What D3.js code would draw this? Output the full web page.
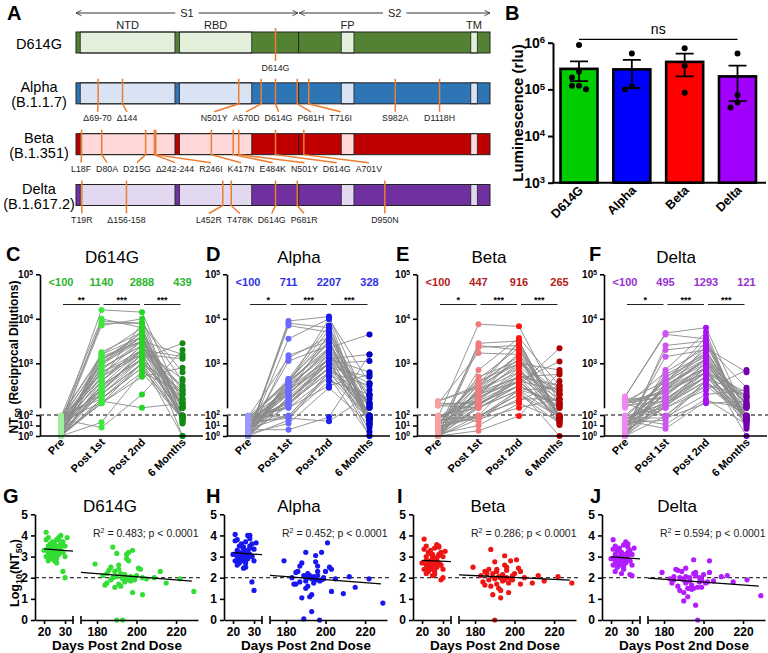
<!DOCTYPE html>
<html>
<head>
<meta charset="utf-8">
<script src="https://cdn.jsdelivr.net/npm/d3@7"></script>
<style>
  body { margin: 0; background: #fff; }
  svg { font-family: "Liberation Sans", Arial, sans-serif; }
</style>
</head>
<body>
<svg id="fig" width="768" height="653"></svg>
<script>
// ---------- data ----------
var variants = ["D614G", "Alpha", "Beta", "Delta"];
var lineages = ["", "(B.1.1.7)", "(B.1.351)", "(B.1.617.2)"];
var timepoints = ["Pre", "Post 1st", "Post 2nd", "6 Months"];

// A: spike map, residue numbers
var spikeLength = 1273;
var spikeDomains = [["NTD", 14, 305], ["RBD", 319, 541], ["FP", 816, 855], ["TM", 1214, 1234]];
var s1s2Site = 685;
var d614gMutations = [["D614G", 614]];
var alphaMutations = [["Δ69-70", 69], ["Δ144", 144], ["N501Y", 501], ["A570D", 570], ["D614G", 614],
  ["P681H", 681], ["T716I", 716], ["S982A", 982], ["D1118H", 1118]];
var betaMutations = [["L18F", 18], ["D80A", 80], ["D215G", 215], ["Δ242-244", 242], ["R246I", 246],
  ["K417N", 417], ["E484K", 484], ["N501Y", 501], ["D614G", 614], ["A701V", 701]];
var deltaMutations = [["T19R", 19], ["Δ156-158", 156], ["L452R", 452], ["T478K", 478], ["D614G", 614],
  ["P681R", 681], ["D950N", 950]];

// B: pseudovirus luminescence (rlu)
var lumD614G = [8.9e5, 2.4e5, 1.8e5, 1.2e5, 1.0e5, 1.2e5];
var lumAlpha = [5.9e5, 1.0e5, 1.14e5];
var lumBeta = [7.6e5, 3.2e5, 8.5e4];
var lumDelta = [5.9e5, 7.6e4, 5.2e4, 4.1e4];

// C-F: numbers above columns and significance
var topD614G = ["<100", "1140", "2888", "439"];
var topAlpha = ["<100", "711", "2207", "328"];
var topBeta = ["<100", "447", "916", "265"];
var topDelta = ["<100", "495", "1293", "121"];
var starsD614G = ["**", "***", "***"];
var starsAlpha = ["*", "***", "***"];
var starsBeta = ["*", "***", "***"];
var starsDelta = ["*", "***", "***"];

// days after 2nd dose for each subject
var daysPost2nd = [20,21,21,22,22,22,22,23,23,23,23,24,24,24,24,25,25,25,25,25,26,26,26,26,27,27,27,27,28,28,
  28,28,29,29,29,30,30,30,21,22,23,24,25,26,27,28,29,31];
var days6Months = [179,183,184,185,186,187,187,188,188,189,189,190,190,190,191,191,192,192,193,193,
  193,194,194,195,195,195,196,196,196,197,197,198,198,199,199,200,201,202,203,203,205,209,212,215,222,229,185,191];

// log10 NT50 per subject
var d614gPre = [0,1.2,0.5,1.8,0,0.9,1.5,0.3,1.9,0,1.1,0.7,1.6,0,1.3,0.4,1.7,0,1.0,0.6,1.4,0,1.85,0.2,1.2,0.8,1.5,0,1.9,0.5,
  1.0,0,1.6,0.3,1.3,0,1.75,0.9,0,1.1,0.6,1.45,0,1.95,0.4,1.2,0,1.65];
var d614gPost1 = [2.6,4.2,2.3,3.0,2.1,3.95,2.8,2.4,3.2,2.2,2.9,2.5,2.1,3.25,2.7,3.1,2.3,1.3,2.6,3.0,2.8,2.2,4.0,2.1,2.4,2.9,3.9,2.5,3.15,2.7,
  3.85,2.95,0.8,3.05,2.4,2.15,2.75,2.3,3.2,2.6,2.5,3.1,2.35,2.2,2.85,3.0,2.45,2.65];
var d614gPost2 = [3.3,4.15,3.0,3.5,2.8,3.9,3.2,3.1,3.6,2.9,3.4,3.3,3.0,3.7,3.2,3.5,3.1,2.8,3.4,3.6,3.3,3.0,3.8,2.7,3.2,3.4,3.9,3.1,3.5,3.3,
  4.0,3.6,2.3,3.7,3.2,2.0,3.5,3.0,3.8,3.4,3.1,3.6,3.3,2.9,3.5,3.7,3.2,3.9];
var d614g6mo = [2.65,2.1,1.65,2.2,2.35,1.9,2.5,3.45,2.0,1.55,2.3,3.15,0,2.05,1.7,2.4,2.2,1.6,2.1,0,1.95,2.15,1.8,2.9,3.1,2.0,2.8,1.9,3.2,2.05,
  1.85,1.3,3.3,2.0,1.9,2.1,2.45,2.4,1.2,2.0,1.95,2.0,2.3,1.75,1.95,1.35,1.75,2.6];

var alphaPre = [0.8,0,1.5,0.3,1.9,0,1.2,0.6,0,1.7,0.4,1.3,0,1.8,0.9,0,1.4,0.2,1.6,0,1.1,0.7,0,1.95,0.5,1.2,0,1.5,0.3,1.75,
  0,1.0,0.6,1.85,0,1.3,0.4,0,1.6,0.9,0,1.45,0.2,1.1,0,1.7,0.5,1.25];
var alphaPost1 = [2.3,3.95,2.1,2.6,1.8,3.9,2.4,2.2,3.18,2.0,2.5,2.15,1.5,3.12,2.35,2.6,2.05,1.2,2.3,2.55,2.45,1.9,3.85,2.0,2.2,2.5,3.55,2.1,3.05,2.4,
  2.65,2.5,0.6,2.6,2.25,1.7,2.4,2.1,2.6,2.3,2.2,2.65,2.05,1.95,2.45,2.55,2.15,2.35];
var alphaPost2 = [3.1,4.05,2.8,3.3,2.6,3.8,3.0,2.9,3.5,2.7,3.2,3.1,2.8,3.6,3.0,3.35,2.9,2.45,3.2,3.45,3.1,2.8,3.7,2.5,3.0,3.25,4.0,2.9,3.4,3.1,
  3.85,3.5,1.8,3.6,3.0,1.4,3.35,2.8,3.75,3.2,2.9,3.5,3.15,2.7,3.3,4.0,3.0,3.65];
var alpha6mo = [2.8,2.0,1.7,2.25,2.3,1.8,2.55,2.7,1.05,0.05,2.1,3.2,1.5,1.85,1.6,2.0,2.1,1.1,0.4,1.2,1.95,2.05,1.75,2.75,3.05,1.9,2.55,2.1,2.3,0,
  1.85,1.9,3.2,2.0,1.95,2.3,3.65,2.5,1.35,2.4,1.95,1.25,2.05,1.55,1.95,0.8,1.7,2.2];

var betaPre = [0.5,1.8,0,2.15,1.2,0,1.6,0.3,2.1,0.9,0,1.4,1.95,0.6,0,1.1,2.05,0.2,1.7,0,1.3,0.8,0,1.5,2.1,0.4,0,1.9,1.0,0,
  1.6,0.7,0,1.25,2.05,0,1.75,0.5,1.1,0,1.85,0.3,0,1.45,0.9,2.15,0,1.6];
var betaPost1 = [2.2,3.88,2.0,2.5,1.7,3.45,2.3,2.1,3.23,1.9,2.4,2.05,1.4,3.4,2.25,2.6,2.0,1.0,2.15,2.45,2.35,1.8,3.36,1.95,2.1,2.4,2.85,2.0,2.7,2.3,
  2.55,2.4,0.5,2.5,2.15,1.6,2.3,2.0,2.65,2.2,2.1,2.55,1.95,1.85,2.35,2.45,2.05,2.25];
var betaPost2 = [2.7,3.83,2.4,3.0,2.2,3.5,2.6,2.5,3.2,2.3,2.8,2.7,2.4,3.3,2.6,3.0,2.5,2.1,2.9,3.1,2.7,2.4,3.4,2.15,2.6,2.9,3.57,2.5,3.05,2.7,
  3.45,3.1,1.9,3.2,2.6,2.0,3.0,2.4,3.35,2.8,2.5,3.15,2.75,2.3,2.95,3.5,2.6,3.25];
var beta6mo = [2.5,2.1,1.8,2.3,2.2,1.9,2.4,3.34,1.6,1.2,2.2,2.75,0,1.95,1.7,2.3,2.05,1.5,1.05,1.4,2.0,2.15,1.85,2.6,3.04,1.9,2.5,2.0,2.35,1.3,
  1.75,1.95,2.8,2.1,1.9,2.2,2.85,2.45,1.7,2.3,2.0,1.75,2.1,1.85,2.05,1.75,1.65,2.4];

var deltaPre = [1.2,2.25,0.4,1.8,2.1,0,1.5,2.2,0.7,1.9,0,2.05,1.3,0.5,2.15,1.0,0,1.7,2.1,0.3,1.4,0,2.25,0.9,1.6,2.0,0,1.85,0.6,2.1,
  1.1,0,1.5,2.15,0.2,1.75,0,1.3,2.05,0.8,0,1.95,0.5,2.2,1.2,0,1.65,2.1];
var deltaPost1 = [2.3,3.68,2.1,2.6,1.8,3.4,2.4,2.2,3.15,2.0,2.5,2.15,1.5,3.3,2.35,2.7,2.05,1.1,2.25,2.55,2.45,1.9,3.65,2.0,2.2,2.5,2.85,2.1,2.75,2.4,
  2.65,2.5,0.7,2.6,2.2,1.7,2.4,2.05,2.8,2.3,2.15,2.6,2.0,1.95,2.45,2.55,2.1,2.35];
var deltaPost2 = [2.9,3.8,2.6,3.1,2.3,3.5,2.8,2.7,3.3,2.5,3.0,2.9,2.6,3.4,2.8,3.15,2.7,2.2,3.0,3.2,2.9,2.6,3.55,2.4,2.8,3.05,3.7,2.7,3.2,2.9,
  3.45,3.1,2.15,3.3,2.8,2.1,3.1,2.6,3.35,3.0,2.7,3.25,2.95,2.5,3.1,3.6,2.8,3.4];
var delta6mo = [2.25,1.95,1.75,2.05,2.4,1.6,2.35,2.0,1.4,2.3,1.95,0.9,1.3,1.9,1.75,2.05,1.5,1.1,1.85,1.5,2.0,1.65,1.45,2.85,2.2,1.5,0.7,2.25,2.1,0,
  1.55,1.8,2.0,1.9,1.55,2.15,1.75,1.8,2.8,2.25,1.85,2.05,2.1,1.8,1.9,1.15,1.9,2.45];

var r2Values = ["0.483", "0.452", "0.286", "0.594"];

// ---------- styling ----------
var spikeColors = [["#548235", "#e2efda"], ["#2e75b6", "#dae3f3"], ["#c00000", "#ffd9d9"], ["#7030a0", "#e2d9f0"]];
var orange = "#ed7d31";
var barFill = ["#00cc00", "#0000ff", "#ff0000", "#a100ff"];
var dotFill = [
  ["#9ef09e", "#3de83d", "#22d622", "#138a13"],
  ["#9a9aff", "#6a6aff", "#1c1cf0", "#0000c8"],
  ["#f6a0a0", "#f27b7b", "#ff1414", "#b00000"],
  ["#ee88f0", "#cc55f0", "#aa10f5", "#7400ae"]
];
var numFill = ["#2db52d", "#3030e6", "#b52020", "#9a2fd0"];
var scatterFill = ["#33dd33", "#1818ee", "#ee1515", "#b21cff"];

var svg = d3.select("#fig");
var mutationSets = [d614gMutations, alphaMutations, betaMutations, deltaMutations];
var lumSets = [lumD614G, lumAlpha, lumBeta, lumDelta];
var topSets = [topD614G, topAlpha, topBeta, topDelta];
var starSets = [starsD614G, starsAlpha, starsBeta, starsDelta];
var ntSets = [
  [d614gPre, d614gPost1, d614gPost2, d614g6mo],
  [alphaPre, alphaPost1, alphaPost2, alpha6mo],
  [betaPre, betaPost1, betaPost2, beta6mo],
  [deltaPre, deltaPost1, deltaPost2, delta6mo]
];

function panelLetter(x, y, t) {
  svg.append("text").attr("x", x).attr("y", y).attr("font-size", 20).attr("font-weight", "bold").text(t);
}

function powerLabels(axisG, expOf) {
  axisG.selectAll(".tick text").each(function(d) {
    var t = d3.select(this).text(null);
    t.append("tspan").text("10");
    t.append("tspan").attr("dy", "-0.5em").attr("font-size", "0.68em").text(expOf(d));
  });
}

function styleAxis(axisG, size, width) {
  axisG.attr("font-family", null).attr("font-size", size).attr("font-weight", "bold");
  axisG.select(".domain").attr("stroke-width", width);
  axisG.selectAll(".tick line").attr("stroke-width", width);
}

// ---------- A ----------
var spikeX = d3.scaleLinear().domain([1, spikeLength]).range([76, 490]);
var rowTop = d3.scalePoint().domain(variants).range([32, 184.5]);
var barH = 21;

svg.append("defs").append("marker").attr("id", "arr")
  .attr("viewBox", "0 0 10 10").attr("refX", 9).attr("refY", 5)
  .attr("markerWidth", 7).attr("markerHeight", 7).attr("orient", "auto-start-reverse")
  .append("path").attr("d", "M1,1 L9,5 L1,9").attr("fill", "none").attr("stroke", "#333").attr("stroke-width", 1.2);

[["S1", 1, s1s2Site - 2], ["S2", s1s2Site + 2, spikeLength]].forEach(function(s) {
  var x1 = spikeX(s[1]), x2 = spikeX(s[2]);
  svg.append("line").attr("x1", x1).attr("x2", x2).attr("y1", 13).attr("y2", 13)
    .attr("stroke", "#333").attr("stroke-width", 1)
    .attr("marker-start", "url(#arr)").attr("marker-end", "url(#arr)");
  var t = svg.append("text").attr("x", (x1 + x2) / 2).attr("y", 17).attr("text-anchor", "middle")
    .attr("font-size", 11).attr("fill", "#222").text(s[0]);
  var bb = t.node().getBBox();
  svg.insert("rect", "text:last-of-type").attr("x", bb.x - 5).attr("y", bb.y).attr("width", bb.width + 10)
    .attr("height", bb.height).attr("fill", "#fff");
});

svg.selectAll("text.domname").data(spikeDomains).join("text").attr("class", "domname")
  .attr("x", function(d) { return (spikeX(d[1]) + spikeX(d[2])) / 2; }).attr("y", 29)
  .attr("text-anchor", "middle").attr("font-size", 11).attr("fill", "#222")
  .text(function(d) { return d[0]; });

function spreadLabels(items, gap, minLeft) {
  var clusters = items.map(function(d) { return [d]; });
  function span(c) {
    var total = d3.sum(c, function(d) { return d.w; }) + gap * (c.length - 1);
    return { left: d3.mean(c, function(d) { return d.anchor; }) - total / 2, total: total };
  }
  var merged = true;
  while (merged) {
    merged = false;
    for (var i = 1; i < clusters.length; i++) {
      var a = span(clusters[i - 1]), b = span(clusters[i]);
      if (a.left + a.total + gap > b.left) {
        clusters[i - 1] = clusters[i - 1].concat(clusters[i]);
        clusters.splice(i, 1);
        merged = true;
        break;
      }
    }
  }
  clusters.forEach(function(c) {
    var x = Math.max(span(c).left, minLeft);
    c.forEach(function(d) { d.x = x + d.w / 2; x += d.w + gap; });
  });
}

variants.forEach(function(v, i) {
  var top = rowTop(v), g = svg.append("g");
  g.append("rect").attr("x", spikeX(1)).attr("y", top).attr("width", spikeX(spikeLength) - spikeX(1))
    .attr("height", barH).attr("fill", spikeColors[i][0]);
  g.selectAll("rect.dom").data(spikeDomains).join("rect").attr("class", "dom")
    .attr("x", function(d) { return spikeX(d[1]); }).attr("y", top)
    .attr("width", function(d) { return spikeX(d[2]) - spikeX(d[1]); }).attr("height", barH)
    .attr("fill", spikeColors[i][1]).attr("stroke", "#222").attr("stroke-width", 0.8);
  g.append("line").attr("x1", spikeX(s1s2Site)).attr("x2", spikeX(s1s2Site))
    .attr("y1", top).attr("y2", top + barH).attr("stroke", "#222").attr("stroke-width", 1);
  g.append("rect").attr("x", spikeX(1)).attr("y", top).attr("width", spikeX(spikeLength) - spikeX(1))
    .attr("height", barH).attr("fill", "none").attr("stroke", "#222").attr("stroke-width", 1);

  // row name
  if (lineages[i]) {
    g.append("text").attr("x", 39).attr("y", top + 9.5).attr("text-anchor", "middle").attr("font-size", 14.5).text(v);
    g.append("text").attr("x", 39).attr("y", top + 24.5).attr("text-anchor", "middle").attr("font-size", 14.5).text(lineages[i]);
  } else {
    g.append("text").attr("x", 39).attr("y", top + 16.5).attr("text-anchor", "middle").attr("font-size", 14.5).text(v);
  }

  // mutations
  var items = mutationSets[i].map(function(m) { return { name: m[0], anchor: spikeX(m[1]) }; });
  var labels = g.selectAll("text.mut").data(items).join("text").attr("class", "mut")
    .attr("y", top + barH + 17.5).attr("text-anchor", "middle").attr("font-size", 8.8).attr("fill", "#222")
    .text(function(d) { return d.name; })
    .each(function(d) { d.w = this.getComputedTextLength(); });
  spreadLabels(items, 5, spikeX(1) - 5);
  labels.attr("x", function(d) { return d.x; });
  g.selectAll("path.mut").data(items).join("path").attr("class", "mut")
    .attr("d", function(d) {
      return "M" + d.anchor + "," + (top - 4) + "V" + (top + barH) + "L" + d.x + "," + (top + barH + 8);
    })
    .attr("fill", "none").attr("stroke", orange).attr("stroke-width", 1.5);
});

// ---------- B ----------
var lumX = d3.scalePoint().domain(variants).range([579, 737.5]);
var lumY = d3.scaleLog().domain([1e3, 1e6]).range([182.7, 42.7]);
var gB = svg.append("g");
var lumStats = lumSets.map(function(vals, i) {
  var m = d3.mean(vals), sem = d3.deviation(vals) / Math.sqrt(vals.length);
  return { name: variants[i], mean: m, sem: sem, vals: vals };
});
gB.selectAll("rect.bar").data(lumStats).join("rect").attr("class", "bar")
  .attr("x", function(d) { return lumX(d.name) - 18.5; }).attr("width", 37)
  .attr("y", function(d) { return lumY(d.mean); })
  .attr("height", function(d) { return lumY.range()[0] - lumY(d.mean); })
  .attr("fill", function(d, i) { return barFill[i]; }).attr("stroke", "#000").attr("stroke-width", 2.6);
lumStats.forEach(function(d) {
  var cx = lumX(d.name), hi = lumY(d.mean + d.sem), lo = lumY(d.mean - d.sem);
  gB.append("path").attr("d", "M" + cx + "," + hi + "V" + lo + "M" + (cx - 9) + "," + hi + "H" + (cx + 9) +
      "M" + (cx - 9) + "," + lo + "H" + (cx + 9))
    .attr("stroke", "#000").attr("stroke-width", 1.8).attr("fill", "none");
  // small dodge so points don't overlap
  var placed = [];
  d.vals.slice().sort(d3.descending).forEach(function(v) {
    var y = lumY(v), off = [0, -7, 7, -12, 12].find(function(o) {
      return placed.every(function(p) { return Math.hypot(p[0] - o, p[1] - y) > 6; });
    });
    placed.push([off, y]);
    gB.append("circle").attr("cx", cx + off).attr("cy", y).attr("r", 3).attr("fill", "#000");
  });
});
var axB = gB.append("g").attr("transform", "translate(553,0)")
  .call(d3.axisLeft(lumY).tickValues([1e3, 1e4, 1e5, 1e6]).tickSize(5).tickSizeOuter(0));
styleAxis(axB, 14, 2);
powerLabels(axB, function(d) { return Math.round(Math.log10(d)); });
gB.append("line").attr("x1", 552).attr("x2", 766).attr("y1", 182.7).attr("y2", 182.7)
  .attr("stroke", "#000").attr("stroke-width", 2);
gB.selectAll("text.xl").data(variants).join("text").attr("class", "xl")
  .attr("transform", function(d) { return "translate(" + (lumX(d) + 5) + ",191) rotate(-45)"; })
  .attr("text-anchor", "end").attr("font-size", 12.5).attr("font-weight", "bold").text(function(d) { return d; });
gB.append("text").attr("transform", "translate(523,113) rotate(-90)").attr("text-anchor", "middle")
  .attr("font-size", 15).attr("font-weight", "bold").text("Luminescence (rlu)");
gB.append("line").attr("x1", lumX(variants[0])).attr("x2", lumX(variants[3]))
  .attr("y1", 39.3).attr("y2", 39.3).attr("stroke", "#000").attr("stroke-width", 1.2);
gB.append("text").attr("x", (lumX(variants[0]) + lumX(variants[3])) / 2).attr("y", 34)
  .attr("text-anchor", "middle").attr("font-size", 14).text("ns");

// ---------- C-F ----------
var upperX0 = [40, 227, 417, 604];
var ntX = d3.scalePoint().domain(timepoints).range([21, 142.5]);
var ntHigh = d3.scaleLinear().domain([2, 5]).range([407.8, 274.3]);
var ntLow = d3.scaleLinear().domain([0, 2]).range([436, 415]);
function ntY(v) { return v >= 2 ? ntHigh(v) : ntLow(v); }

variants.forEach(function(v, i) {
  var series = ntSets[i];
  var g = svg.append("g").attr("transform", "translate(" + upperX0[i] + ",0)");
  var subjects = d3.range(series[0].length).map(function(j) { return series.map(function(s) { return s[j]; }); });

  g.append("line").attr("x1", 0).attr("x2", 165).attr("y1", ntLow(2)).attr("y2", ntLow(2))
    .attr("stroke", "#000").attr("stroke-width", 1).attr("stroke-dasharray", "4,3");

  var line = d3.line().x(function(d, k) { return ntX(timepoints[k]); }).y(function(d) { return ntY(d); });
  g.selectAll("path.subj").data(subjects).join("path").attr("class", "subj")
    .attr("d", line).attr("fill", "none").attr("stroke", "#8a8a8a").attr("stroke-width", 0.9);

  timepoints.forEach(function(tp, k) {
    g.selectAll("circle.t" + k).data(series[k]).join("circle").attr("class", "t" + k)
      .attr("cx", ntX(tp)).attr("cy", function(d) { return ntY(d); }).attr("r", 3)
      .attr("fill", dotFill[i][k]);
  });

  var axHi = g.append("g").call(d3.axisLeft(ntHigh).tickValues([3, 4, 5]).tickSize(4).tickSizeOuter(0));
  styleAxis(axHi, 10, 1.6);
  powerLabels(axHi, function(d) { return d; });
  var axLo = g.append("g").call(d3.axisLeft(ntLow).tickValues([0, 1, 2]).tickSize(4).tickSizeOuter(0));
  styleAxis(axLo, 10, 1.6);
  powerLabels(axLo, function(d) { return d; });
  g.append("line").attr("x1", 0).attr("x2", 163).attr("y1", 436).attr("y2", 436)
    .attr("stroke", "#000").attr("stroke-width", 1.6);

  g.selectAll("text.tp").data(timepoints).join("text").attr("class", "tp")
    .attr("transform", function(d) { return "translate(" + (ntX(d) + 4) + ",443) rotate(-45)"; })
    .attr("text-anchor", "end").attr("font-size", 11).attr("font-weight", "bold").text(function(d) { return d; });

  g.append("text").attr("x", 72).attr("y", 263).attr("text-anchor", "middle").attr("font-size", 17).text(v);
  g.selectAll("text.top").data(topSets[i]).join("text").attr("class", "top")
    .attr("x", function(d, k) { return ntX(timepoints[k]); }).attr("y", 285.5)
    .attr("text-anchor", "middle").attr("font-size", 11).attr("font-weight", "bold")
    .attr("fill", numFill[i]).text(function(d) { return d; });
  starSets[i].forEach(function(s, k) {
    var a = ntX(timepoints[k]) + 2, b = ntX(timepoints[k + 1]) - 2;
    g.append("line").attr("x1", a).attr("x2", b).attr("y1", 304.5).attr("y2", 304.5)
      .attr("stroke", "#222").attr("stroke-width", 1.1);
    g.append("text").attr("x", (a + b) / 2).attr("y", 303).attr("text-anchor", "middle")
      .attr("font-size", 9).attr("font-weight", "bold").text(s);
  });
});

var ntLabel = svg.append("text").attr("transform", "translate(18,357) rotate(-90)").attr("text-anchor", "middle")
  .attr("font-size", 12).attr("font-weight", "bold");
ntLabel.append("tspan").text("NT");
ntLabel.append("tspan").attr("dy", 3).attr("font-size", 8.5).text("50");
ntLabel.append("tspan").attr("dy", -3).text(" (Reciprocal Dilutions)");

// ---------- G-J ----------
var lowerX0 = [35, 224, 413, 602];
var logY = d3.scaleLinear().domain([0, 5]).range([620, 514.3]);
var early = d3.scaleLinear().domain([15.7, 33.8]).range([0, 38]);
var late = d3.scaleLinear().domain([171.9, 231.1]).range([46, 163]);

variants.forEach(function(v, i) {
  var g = svg.append("g").attr("transform", "translate(" + lowerX0[i] + ",0)");
  var ptsEarly = daysPost2nd.map(function(d, j) { return [d, ntSets[i][2][j]]; });
  var ptsLate = days6Months.map(function(d, j) { return [d, ntSets[i][3][j]]; });
  var pts = ptsEarly.concat(ptsLate);

  g.append("line").attr("x1", 0).attr("x2", 165).attr("y1", logY(2)).attr("y2", logY(2))
    .attr("stroke", "#000").attr("stroke-width", 1).attr("stroke-dasharray", "4,3");

  g.selectAll("circle.e").data(ptsEarly).join("circle").attr("class", "e")
    .attr("cx", function(d) { return early(d[0]); }).attr("cy", function(d) { return logY(d[1]); })
    .attr("r", 2.6).attr("fill", scatterFill[i]);
  g.selectAll("circle.l").data(ptsLate).join("circle").attr("class", "l")
    .attr("cx", function(d) { return late(d[0]); }).attr("cy", function(d) { return logY(d[1]); })
    .attr("r", 2.6).attr("fill", scatterFill[i]);

  // least squares fit
  var mx = d3.mean(pts, function(d) { return d[0]; }), my = d3.mean(pts, function(d) { return d[1]; });
  var slope = d3.sum(pts, function(d) { return (d[0] - mx) * (d[1] - my); }) /
              d3.sum(pts, function(d) { return (d[0] - mx) * (d[0] - mx); });
  var fit = function(x) { return my + slope * (x - mx); };
  [[early, 20, early.domain()[1]], [late, late.domain()[0], 228]].forEach(function(s) {
    g.append("line").attr("x1", s[0](s[1])).attr("x2", s[0](s[2]))
      .attr("y1", logY(fit(s[1]))).attr("y2", logY(fit(s[2])))
      .attr("stroke", "#000").attr("stroke-width", 1.3);
  });

  var axY = g.append("g").call(d3.axisLeft(logY).ticks(5).tickSize(4).tickSizeOuter(0).tickPadding(3));
  styleAxis(axY, 12, 1.6);
  var axE = g.append("g").attr("transform", "translate(0," + logY(0) + ")")
    .call(d3.axisBottom(early).tickValues([20, 30]).tickSize(4).tickSizeOuter(0));
  styleAxis(axE, 12, 1.6);
  var axL = g.append("g").attr("transform", "translate(0," + logY(0) + ")")
    .call(d3.axisBottom(late).tickValues([180, 200, 220]).tickSize(4).tickSizeOuter(0));
  styleAxis(axL, 12, 1.6);
  [early.range()[1], late.range()[0]].forEach(function(x) {
    g.append("line").attr("x1", x).attr("x2", x).attr("y1", logY(0) - 4).attr("y2", logY(0) + 4)
      .attr("stroke", "#000").attr("stroke-width", 1.6);
  });

  g.append("text").attr("x", 75).attr("y", 511.5).attr("text-anchor", "middle").attr("font-size", 17).text(v);
  var r2 = g.append("text").attr("x", 58).attr("y", 537).attr("font-size", 10.5).attr("fill", "#222");
  r2.append("tspan").text("R");
  r2.append("tspan").attr("dy", -4).attr("font-size", 7).text("2");
  r2.append("tspan").attr("dy", 4).text(" = " + r2Values[i] + "; p < 0.0001");
  g.append("text").attr("x", 82).attr("y", 649.5).attr("text-anchor", "middle")
    .attr("font-size", 13.5).attr("font-weight", "bold").text("Days Post 2nd Dose");
});

var logLabel = svg.append("text").attr("transform", "translate(19,573) rotate(-90)").attr("text-anchor", "middle")
  .attr("font-size", 12.5).attr("font-weight", "bold");
logLabel.append("tspan").text("Log");
logLabel.append("tspan").attr("dy", 3).attr("font-size", 9).text("10");
logLabel.append("tspan").attr("dy", -3).text("(NT");
logLabel.append("tspan").attr("dy", 3).attr("font-size", 9).text("50");
logLabel.append("tspan").attr("dy", -3).text(")");

// ---------- panel letters ----------
[["A", 7, 20], ["B", 505, 20], ["C", 6, 261], ["D", 206, 261], ["E", 396, 261], ["F", 589, 261],
 ["G", 3, 503], ["H", 206, 503], ["I", 397, 503], ["J", 590, 503]].forEach(function(p) {
  panelLetter(p[1], p[2], p[0]);
});
</script>
</body>
</html>
